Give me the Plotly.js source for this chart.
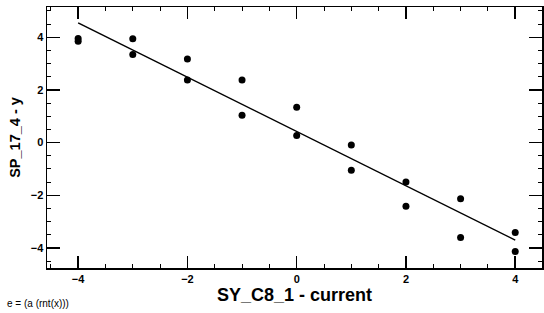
<!DOCTYPE html>
<html>
<head>
<meta charset="utf-8">
<script src="https://cdn.plot.ly/plotly-3.0.1.min.js"></script>
<style>html,body{margin:0;padding:0;background:#fff;}#chart{width:544px;height:313px;}</style>
</head>
<body>
<div id="chart"></div>
<script>
// Observed points
const currentX = [-4, -4, -3, -3, -2, -2, -1, -1, 0, 0, 1, 1, 2, 2, 3, 3, 4, 4];
const spY = [3.95, 3.85, 3.94, 3.35, 3.18, 2.38, 2.38, 1.04, 1.34, 0.27, -0.09, -1.05, -1.49, -2.42, -2.13, -3.6, -3.41, -4.13];
// Fitted line endpoints
const fitX = [-4, 4];
const fitY = [4.55, -3.7];
const xTickVals = [-4, -2, 0, 2, 4];
const yTickVals = [-4, -2, 0, 2, 4];

const font = "Arial, 'Liberation Sans', sans-serif";
const axisCommon = {
  showgrid: false, zeroline: false, showline: true, linecolor: '#000', linewidth: 1.5,
  mirror: 'ticks', ticks: 'inside', ticklen: 12, tickwidth: 1.5, tickcolor: '#000',
  tickmode: 'array',
  tickfont: {family: font, size: 11, color: '#000', weight: 'bold'},
  minor: {dtick: 0.5, ticks: 'inside', ticklen: 4, tickwidth: 1, tickcolor: '#000'}
};

const data = [
  {x: fitX, y: fitY, mode: 'lines', line: {color: '#000', width: 1.5}, hoverinfo: 'skip'},
  {x: currentX, y: spY, mode: 'markers', marker: {color: '#000', size: 7}}
];

const layout = {
  width: 544, height: 313,
  margin: {l: 47, r: 2, t: 7, b: 45},
  paper_bgcolor: '#fff', plot_bgcolor: '#fff',
  showlegend: false,
  xaxis: Object.assign({}, axisCommon, {
    range: [-4.57, 4.49], tickvals: xTickVals,
    title: {text: 'SY_C8_1 - current', font: {family: font, size: 18, color: '#000', weight: 'bold'}, standoff: 0}
  }),
  yaxis: Object.assign({}, axisCommon, {
    range: [-4.76, 5.15], tickvals: yTickVals, ticklen: 13,
    title: {text: 'SP_17_4 - y', font: {family: font, size: 14.5, color: '#000', weight: 'bold'}, standoff: 6}
  }),
  annotations: [
    {text: 'e = (a (rnt(x)))', xref: 'paper', yref: 'paper', x: -0.085, y: -0.163,
     xanchor: 'left', yanchor: 'bottom', showarrow: false,
     font: {family: font, size: 10, color: '#000'}}
  ]
};

Plotly.newPlot('chart', data, layout, {displayModeBar: false, staticPlot: true});
</script>
</body>
</html>
